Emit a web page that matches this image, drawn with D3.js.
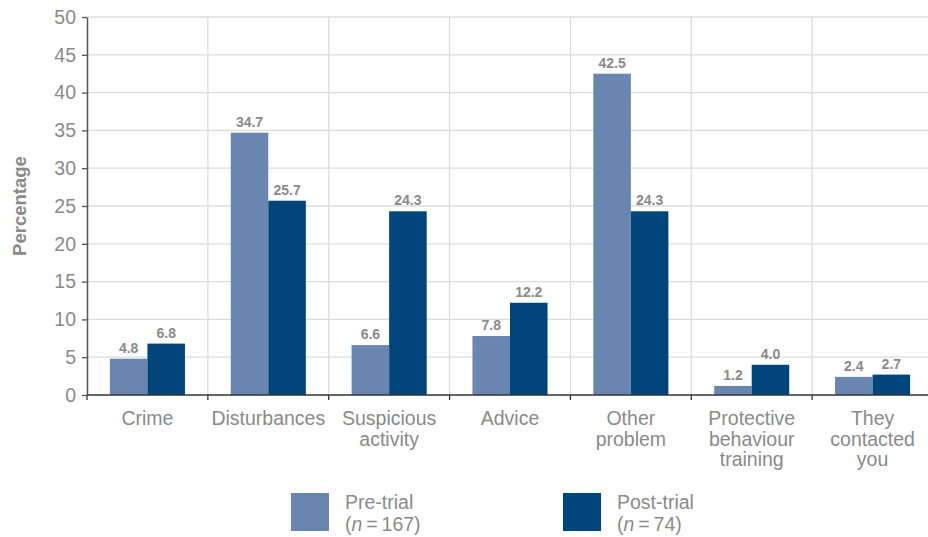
<!DOCTYPE html>
<html>
<head>
<meta charset="utf-8">
<script src="https://cdn.jsdelivr.net/npm/d3@7"></script>
<style>
  html, body { margin: 0; padding: 0; background: #fff; }
  svg { display: block; font-family: "Liberation Sans", Arial, sans-serif; }
</style>
</head>
<body>
<svg id="chart" width="928" height="537"></svg>
<script>
// Reasons for contact, share of respondents (%)
const categories = [
  ["Crime"],
  ["Disturbances"],
  ["Suspicious", "activity"],
  ["Advice"],
  ["Other", "problem"],
  ["Protective", "behaviour", "training"],
  ["They", "contacted", "you"]
];
const preTrial = [4.8, 34.7, 6.6, 7.8, 42.5, 1.2, 2.4];
const postTrial = [6.8, 25.7, 24.3, 12.2, 24.3, 4.0, 2.7];
const seriesNames = ["Pre-trial", "Post-trial"];
const seriesN = [167, 74];
const yTicks = [0, 5, 10, 15, 20, 25, 30, 35, 40, 45, 50];

const colors = ["#6886b0", "#00457b"];
const textGray = "#8a8a8a";
const labelSize = 19.5;

const svg = d3.select("#chart");
const margin = { left: 87, top: 17, bottom: 395 };
const plotRight = 933;

const keys = categories.map((c, i) => i);
const x = d3.scaleBand().domain(keys).range([margin.left, plotRight]).paddingInner(0).paddingOuter(0);
const xInner = d3.scaleBand().domain([0, 1]).range([0, x.bandwidth()]).paddingOuter(0.61).paddingInner(0);
const y = d3.scaleLinear().domain([0, 50]).range([margin.bottom, margin.top]);

// horizontal gridlines
svg.append("g").selectAll("line").data(yTicks.filter(t => t > 0)).join("line")
  .attr("x1", margin.left).attr("x2", plotRight)
  .attr("y1", d => y(d)).attr("y2", d => y(d))
  .attr("stroke", "#dcdcdc").attr("stroke-width", 1.3);

// vertical gridlines at category boundaries
svg.append("g").selectAll("line").data(keys.slice(1)).join("line")
  .attr("x1", d => x(d)).attr("x2", d => x(d))
  .attr("y1", margin.top).attr("y2", margin.bottom)
  .attr("stroke", "#dcdcdc").attr("stroke-width", 1.3);

// bars with value labels
const series = [preTrial, postTrial];
series.forEach((vals, s) => {
  const g = svg.append("g");
  g.selectAll("rect").data(vals).join("rect")
    .attr("x", (d, i) => x(i) + xInner(s))
    .attr("width", xInner.bandwidth())
    .attr("y", d => y(d))
    .attr("height", d => y(0) - y(d))
    .attr("fill", colors[s]);
  g.selectAll("text").data(vals).join("text")
    .attr("x", (d, i) => x(i) + xInner(s) + xInner.bandwidth() / 2)
    .attr("y", d => y(d) - 6)
    .attr("text-anchor", "middle")
    .attr("font-size", 14)
    .attr("font-weight", "bold")
    .attr("fill", textGray)
    .text(d => d.toFixed(1));
});

// y axis
const yAxis = svg.append("g")
  .attr("transform", `translate(${margin.left},0)`)
  .call(d3.axisLeft(y).tickValues(yTicks).tickSize(5).tickPadding(6).tickSizeOuter(0));
yAxis.select(".domain").attr("stroke", "#555").attr("stroke-width", 1.5);
yAxis.selectAll(".tick line").attr("stroke", "#555").attr("stroke-width", 1.3);
yAxis.selectAll(".tick text").attr("font-size", labelSize).attr("fill", textGray)
  .attr("font-family", "Liberation Sans, Arial, sans-serif");

// x axis
const xAxis = svg.append("g")
  .attr("transform", `translate(0,${margin.bottom})`);
xAxis.append("line")
  .attr("x1", margin.left).attr("x2", plotRight)
  .attr("y1", 0).attr("y2", 0)
  .attr("stroke", "#333").attr("stroke-width", 1.5);
xAxis.selectAll("line.tick").data(keys.concat([keys.length])).join("line")
  .attr("class", "tick")
  .attr("x1", d => d < keys.length ? x(d) : plotRight)
  .attr("x2", d => d < keys.length ? x(d) : plotRight)
  .attr("y1", 0).attr("y2", 5)
  .attr("stroke", "#333").attr("stroke-width", 1.3);
const xLabels = xAxis.selectAll("text").data(categories).join("text")
  .attr("x", (d, i) => x(i) + x.bandwidth() / 2)
  .attr("y", 30)
  .attr("text-anchor", "middle")
  .attr("font-size", labelSize)
  .attr("fill", textGray);
xLabels.selectAll("tspan").data(d => d).join("tspan")
  .attr("x", function () { return this.parentNode.getAttribute("x"); })
  .attr("dy", (d, i) => i === 0 ? 0 : 20.5)
  .text(d => d);

// y axis title
svg.append("text")
  .attr("transform", "translate(26,206) rotate(-90)")
  .attr("text-anchor", "middle")
  .attr("font-size", 18.5)
  .attr("font-weight", "bold")
  .attr("fill", textGray)
  .text("Percentage");

// legend
const legendX = [291, 563];
seriesNames.forEach((name, s) => {
  const g = svg.append("g").attr("transform", `translate(${legendX[s]},493)`);
  g.append("rect").attr("width", 38).attr("height", 38).attr("fill", colors[s]);
  g.append("text").attr("x", 54).attr("y", 16)
    .attr("font-size", labelSize).attr("fill", textGray)
    .text(name);
  const t2 = g.append("text").attr("x", 54).attr("y", 38)
    .attr("font-size", labelSize).attr("fill", textGray);
  t2.append("tspan").text("(");
  t2.append("tspan").attr("font-style", "italic").text("n");
  t2.append("tspan").text("\u2009=\u2009" + seriesN[s] + ")");
});
</script>
</body>
</html>
